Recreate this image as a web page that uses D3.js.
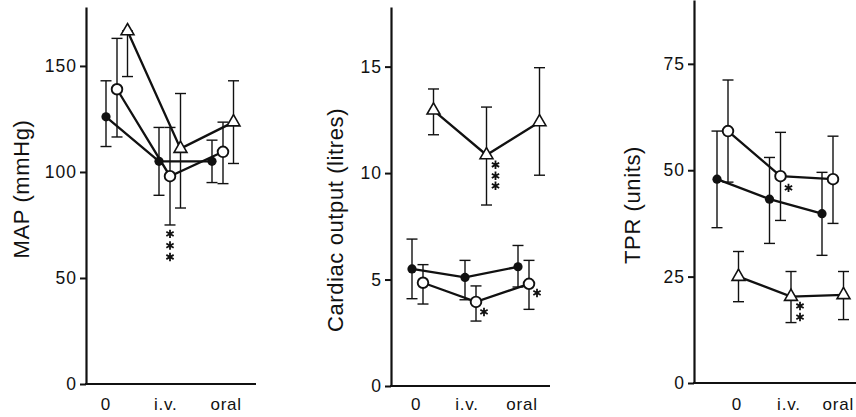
<!DOCTYPE html>
<html>
<head>
<meta charset="utf-8">
<title>MAP / Cardiac output / TPR</title>
<script src="https://d3js.org/d3.v7.min.js"></script>
<style>
  body { margin: 0; background: #fff; }
  text { font-family: "Liberation Sans", Arial, sans-serif; fill: #111; }
</style>
</head>
<body>
<div id="chart"></div>
<script>
const categories = ["0", "i.v.", "oral"];

// MAP (mmHg)
const mapFilled   = [126, 105, 105];
const mapFilledLo = [112, 89, 95];
const mapFilledHi = [143, 121, 115];
const mapOpen     = [139, 98, 109.5];
const mapOpenLo   = [116.5, 75, 94.5];
const mapOpenHi   = [163, 121, 123.5];
const mapTri      = [166.5, 111, 123.5];
const mapTriLo    = [145, 83, 104];
const mapTriHi    = [166.5, 137, 143];
const mapTicks    = [0, 50, 100, 150];
const mapLabelAt  = [-0.21, 0.92, 2.06];

// Cardiac output (litres)
const coFilled   = [5.5, 5.1, 5.6];
const coFilledLo = [4.1, 4.05, 4.65];
const coFilledHi = [6.9, 5.9, 6.6];
const coOpen     = [4.85, 3.95, 4.8];
const coOpenLo   = [3.85, 3.05, 3.6];
const coOpenHi   = [5.7, 4.7, 5.9];
const coTri      = [12.95, 10.85, 12.4];
const coTriLo    = [11.8, 8.5, 9.9];
const coTriHi    = [13.95, 13.1, 14.95];
const coTicks    = [0, 5, 10, 15];
const coLabelAt  = [-0.13, 0.83, 1.87];

// TPR (units)
const tprFilled   = [47.9, 43.2, 39.8];
const tprFilledLo = [36.5, 32.8, 30];
const tprFilledHi = [59.2, 53, 49.5];
const tprOpen     = [59.2, 48.6, 47.9];
const tprOpenLo   = [47.2, 38.2, 37.5];
const tprOpenHi   = [71.2, 58.9, 58];
const tprTri      = [25, 20.3, 20.7];
const tprTriLo    = [19.1, 14.2, 14.9];
const tprTriHi    = [30.9, 26.2, 26.2];
const tprTicks    = [0, 25, 50, 75];
const tprLabelAt  = [0.17, 1.16, 2.1];

// significance stars: series, group index, star values
const mapStars = [{s: "open", g: 1, v: [70.8, 65.3, 59.9]}];
const coStars  = [{s: "tri", g: 1, v: [10.39, 9.87, 9.4]},
                  {s: "open", g: 1, v: [3.48]},
                  {s: "open", g: 2, v: [4.37]}];
const tprStars = [{s: "open", g: 1, v: [45.85]},
                  {s: "tri", g: 1, v: [18.1, 15.5]}];

const width = 856, height = 417;
const dodge = {filled: -11, open: 0, tri: 10.5};
const starDx = {filled: 8, open: 8, tri: 9};

const panels = [
  {title: "MAP (mmHg)", left: 86, right: 256, top: 7, bottom: 384, yMax: 177.8,
   gx: [117, 223], ticks: mapTicks, labelAt: mapLabelAt, titleX: 21, titleY: 189,
   stars: mapStars, starDx: {open: 0},
   series: {filled: [mapFilled, mapFilledLo, mapFilledHi],
            open: [mapOpen, mapOpenLo, mapOpenHi],
            tri: [mapTri, mapTriLo, mapTriHi]}},
  {title: "Cardiac output (litres)", left: 391, right: 550, top: 7, bottom: 386, yMax: 17.8,
   gx: [423, 529], ticks: coTicks, labelAt: coLabelAt, titleX: 335, titleY: 220,
   stars: coStars, starDx: {},
   series: {filled: [coFilled, coFilledLo, coFilledHi],
            open: [coOpen, coOpenLo, coOpenHi],
            tri: [coTri, coTriLo, coTriHi]}},
  {title: "TPR (units)", left: 694, right: 856, top: 0, bottom: 383, yMax: 90,
   gx: [728, 833], ticks: tprTicks, labelAt: tprLabelAt, titleX: 632, titleY: 205,
   stars: tprStars, starDx: {},
   series: {filled: [tprFilled, tprFilledLo, tprFilledHi],
            open: [tprOpen, tprOpenLo, tprOpenHi],
            tri: [tprTri, tprTriLo, tprTriHi]}}
];

const svg = d3.select("#chart").append("svg")
  .attr("width", width).attr("height", height);

panels.forEach(p => {
  const g = svg.append("g");
  const y = d3.scaleLinear().domain([0, p.yMax]).range([p.bottom, p.top]);
  const x = d3.scaleLinear().domain([0, 2]).range(p.gx);

  // y axis
  const ya = g.append("g")
    .attr("transform", `translate(${p.left},0)`)
    .call(d3.axisLeft(y).tickValues(p.ticks).tickSize(6).tickSizeOuter(0).tickPadding(3));
  ya.select(".domain").attr("stroke", "#111").attr("stroke-width", 2.2);
  ya.selectAll(".tick line").attr("stroke", "#111").attr("stroke-width", 2);
  ya.selectAll(".tick text")
    .attr("font-size", 17.5).attr("letter-spacing", 1)
    .attr("font-family", "Liberation Sans, Arial, sans-serif").attr("fill", "#111");

  // x axis baseline
  g.append("line")
    .attr("x1", p.left - 1).attr("x2", p.right)
    .attr("y1", p.bottom).attr("y2", p.bottom)
    .attr("stroke", "#111").attr("stroke-width", 2.2);

  g.selectAll(".xlab").data(categories).join("text")
    .attr("x", (d, i) => x(p.labelAt[i]))
    .attr("y", 410)
    .attr("text-anchor", "middle")
    .attr("font-size", 17).attr("letter-spacing", 0.8)
    .text(d => d);

  // y title
  g.append("text")
    .attr("transform", `translate(${p.titleX},${p.titleY}) rotate(-90)`)
    .attr("text-anchor", "middle")
    .attr("dominant-baseline", "central")
    .attr("font-size", 22).attr("letter-spacing", 0.6)
    .text(p.title);

  const keys = ["filled", "open", "tri"];
  const px = (k, i) => x(i) + dodge[k];

  // error bars
  keys.forEach(k => {
    const [vals, lo, hi] = p.series[k];
    vals.forEach((v, i) => {
      const cx = px(k, i);
      g.append("line").attr("x1", cx).attr("x2", cx)
        .attr("y1", y(lo[i])).attr("y2", y(hi[i]))
        .attr("stroke", "#111").attr("stroke-width", 1.4);
      [lo[i], hi[i]].forEach(e => {
        g.append("line").attr("x1", cx - 5.5).attr("x2", cx + 5.5)
          .attr("y1", y(e)).attr("y2", y(e))
          .attr("stroke", "#111").attr("stroke-width", 1.4);
      });
    });
  });

  // connecting lines
  const line = d3.line();
  keys.forEach(k => {
    const vals = p.series[k][0];
    g.append("path")
      .attr("d", line(vals.map((v, i) => [px(k, i), y(v)])))
      .attr("fill", "none").attr("stroke", "#111").attr("stroke-width", 2.3);
  });

  // markers
  keys.forEach(k => {
    const vals = p.series[k][0];
    vals.forEach((v, i) => {
      const cx = px(k, i), cy = y(v);
      if (k === "filled") {
        g.append("circle").attr("cx", cx).attr("cy", cy).attr("r", 4.6).attr("fill", "#111");
      } else if (k === "open") {
        g.append("circle").attr("cx", cx).attr("cy", cy).attr("r", 5.3)
          .attr("fill", "#fff").attr("stroke", "#111").attr("stroke-width", 1.9);
      } else {
        g.append("path")
          .attr("d", d3.symbol(d3.symbolTriangle).size(72)())
          .attr("transform", `translate(${cx},${cy})`)
          .attr("fill", "#fff").attr("stroke", "#111").attr("stroke-width", 1.6);
      }
    });
  });

  // significance stars
  p.stars.forEach(st => {
    const dx = st.s in p.starDx ? p.starDx[st.s] : starDx[st.s];
    st.v.forEach(v => {
      g.append("path")
        .attr("d", d3.symbol(d3.symbolAsterisk).size(50)())
        .attr("transform", `translate(${px(st.s, st.g) + dx},${y(v)})`)
        .attr("fill", "none").attr("stroke", "#111").attr("stroke-width", 1.8);
    });
  });
});
</script>
</body>
</html>
